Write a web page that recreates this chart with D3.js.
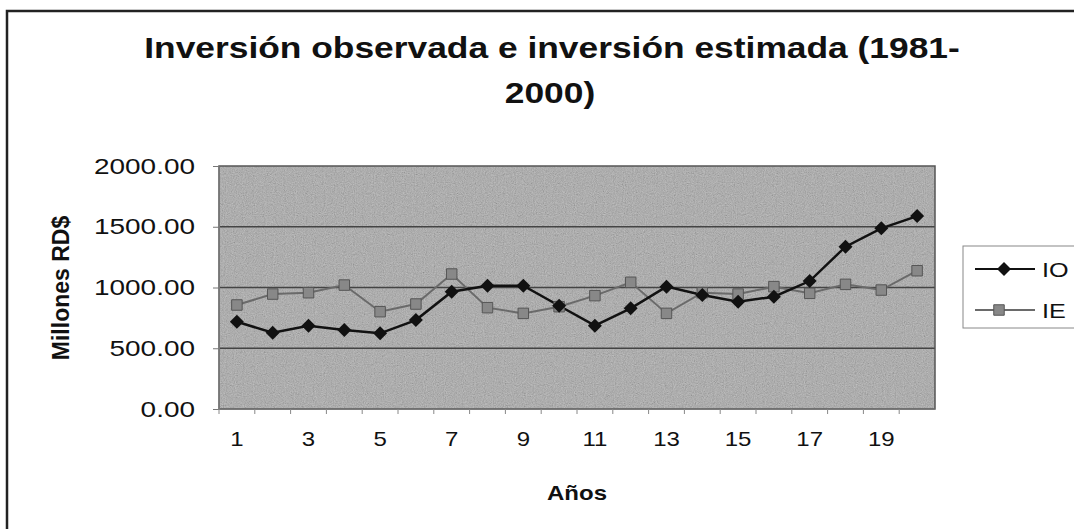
<!DOCTYPE html>
<html>
<head>
<meta charset="utf-8">
<script src="https://cdn.jsdelivr.net/npm/d3@7"></script>
<style>
  body { margin: 0; background: #fff; }
  text { font-family: "Liberation Sans", Arial, sans-serif; fill: #111; }
</style>
</head>
<body>
<div id="chart"></div>
<script>
// data
const years = [1, 2, 3, 4, 5, 6, 7, 8, 9, 10, 11, 12, 13, 14, 15, 16, 17, 18, 19, 20];
const ioValues = [718, 628, 686, 650, 623, 732, 965, 1015, 1015, 850, 686, 829, 1007, 938, 883, 924, 1053, 1336, 1487, 1588];
const ieValues = [856, 946, 957, 1020, 801, 864, 1111, 834, 787, 842, 933, 1043, 787, 957, 946, 1007, 952, 1026, 979, 1138];
const yTicks = [0, 500, 1000, 1500, 2000];
const xLabels = [1, 3, 5, 7, 9, 11, 13, 15, 17, 19];
const seriesNames = ["IO", "IE"];

const width = 1074, height = 529;
const plot = {left: 219, right: 935, top: 166, bottom: 409};

let svg = d3.select("#chart")
    .append("svg")
    .attr("width", width)
    .attr("height", height);

// grainy look of the scanned plot area
let defs = svg.append("defs");
let noise = defs.append("filter").attr("id", "noise")
    .attr("x", 0).attr("y", 0).attr("width", "100%").attr("height", "100%");
noise.append("feTurbulence")
    .attr("type", "fractalNoise")
    .attr("baseFrequency", 0.9)
    .attr("numOctaves", 2)
    .attr("seed", 3);
noise.append("feColorMatrix")
    .attr("type", "matrix")
    .attr("values", "0.33 0.33 0.33 0 0  0.33 0.33 0.33 0 0  0.33 0.33 0.33 0 0  0 0 0 0 1");

// outer frame (runs off the picture on the right and bottom)
svg.append("path")
    .attr("d", `M7,${height + 5} L7,11 L${width + 5},11`)
    .attr("fill", "none")
    .attr("stroke", "#222")
    .attr("stroke-width", 2.5);

let x = d3.scaleBand()
    .domain(years)
    .range([plot.left, plot.right]);

let y = d3.scaleLinear()
    .domain([0, 2000])
    .range([plot.bottom, plot.top]);

// plot background
svg.append("rect")
    .attr("x", plot.left).attr("y", plot.top)
    .attr("width", plot.right - plot.left).attr("height", plot.bottom - plot.top)
    .attr("fill", "#a0a0a0");
svg.append("rect")
    .attr("x", plot.left).attr("y", plot.top)
    .attr("width", plot.right - plot.left).attr("height", plot.bottom - plot.top)
    .attr("filter", "url(#noise)")
    .attr("opacity", 0.5);

// gridlines
svg.append("g")
    .selectAll("line")
    .data(yTicks.filter(d => d > 0 && d < 2000))
    .enter()
    .append("line")
    .attr("x1", plot.left).attr("x2", plot.right)
    .attr("y1", d => y(d)).attr("y2", d => y(d))
    .attr("stroke", "#444")
    .attr("stroke-width", 1.3);

svg.append("rect")
    .attr("x", plot.left).attr("y", plot.top)
    .attr("width", plot.right - plot.left).attr("height", plot.bottom - plot.top)
    .attr("fill", "none")
    .attr("stroke", "#555")
    .attr("stroke-width", 1.5);

// y axis
let yAxis = svg.append("g")
    .attr("transform", `translate(${plot.left}, 0)`)
    .call(d3.axisLeft(y).tickValues(yTicks).tickSize(6).tickFormat(d3.format(".2f")));
yAxis.select(".domain").attr("stroke", "#777");
yAxis.selectAll(".tick line").attr("stroke", "#777");
yAxis.selectAll(".tick text").remove();

svg.append("g")
    .selectAll("text")
    .data(yTicks)
    .enter()
    .append("text")
    .attr("transform", d => `translate(195, ${y(d) + 7.5}) scale(1.3, 1)`)
    .style("text-anchor", "end")
    .style("font-size", "21.5px")
    .text(d => d3.format(".2f")(d));

// x axis: ticks between categories
svg.append("line")
    .attr("x1", plot.left).attr("x2", plot.right)
    .attr("y1", plot.bottom).attr("y2", plot.bottom)
    .attr("stroke", "#777");
svg.append("g")
    .selectAll("line")
    .data(years)
    .enter()
    .append("line")
    .attr("x1", d => x(d)).attr("x2", d => x(d))
    .attr("y1", plot.bottom).attr("y2", plot.bottom + 5)
    .attr("stroke", "#888");

svg.append("g")
    .selectAll("text")
    .data(xLabels)
    .enter()
    .append("text")
    .attr("transform", d => `translate(${x(d) + x.bandwidth() / 2}, 446) scale(1.2, 1)`)
    .style("text-anchor", "middle")
    .style("font-size", "20px")
    .text(d => d);

// axis titles
svg.append("text")
    .attr("transform", "translate(577, 500) scale(1.2, 1)")
    .style("text-anchor", "middle")
    .style("font-size", "20px")
    .style("font-weight", "bold")
    .text("Años");

svg.append("text")
    .attr("transform", "translate(69, 288) rotate(-90)")
    .style("text-anchor", "middle")
    .style("font-size", "23px")
    .style("font-weight", "bold")
    .text("Millones RD$");

// title
svg.append("text")
    .attr("transform", "translate(552, 58) scale(1.22, 1)")
    .style("text-anchor", "middle")
    .style("font-size", "29px")
    .style("font-weight", "bold")
    .text("Inversión observada e inversión estimada (1981-");
svg.append("text")
    .attr("transform", "translate(550, 103) scale(1.22, 1)")
    .style("text-anchor", "middle")
    .style("font-size", "29px")
    .style("font-weight", "bold")
    .text("2000)");

// series
let cx = d => x(d) + x.bandwidth() / 2;
let line = d3.line()
    .x(d => cx(d[0]))
    .y(d => y(d[1]));

let ieData = years.map((d, i) => [d, ieValues[i]]);
let ioData = years.map((d, i) => [d, ioValues[i]]);

svg.append("path")
    .datum(ieData)
    .attr("d", line)
    .attr("fill", "none")
    .attr("stroke", "#6a6a6a")
    .attr("stroke-width", 2);

svg.append("path")
    .datum(ioData)
    .attr("d", line)
    .attr("fill", "none")
    .attr("stroke", "#111")
    .attr("stroke-width", 2.5);

let square = d3.symbol().type(d3.symbolSquare).size(110);
let diamond = "M0,-7 L7,0 L0,7 L-7,0 Z";

svg.append("g")
    .selectAll("path")
    .data(ieData)
    .enter()
    .append("path")
    .attr("d", square)
    .attr("transform", d => `translate(${cx(d[0])}, ${y(d[1])})`)
    .attr("fill", "#888")
    .attr("stroke", "#555")
    .attr("stroke-width", 1);

svg.append("g")
    .selectAll("path")
    .data(ioData)
    .enter()
    .append("path")
    .attr("d", diamond)
    .attr("transform", d => `translate(${cx(d[0])}, ${y(d[1])})`)
    .attr("fill", "#111");

// legend
let legend = svg.append("g");
legend.append("rect")
    .attr("x", 963).attr("y", 246)
    .attr("width", 130).attr("height", 82)
    .attr("fill", "#fff")
    .attr("stroke", "#888")
    .attr("stroke-width", 1);

let legendY = [269, 310];
legend.selectAll("line")
    .data(seriesNames)
    .enter()
    .append("line")
    .attr("x1", 975).attr("x2", 1035)
    .attr("y1", (d, i) => legendY[i]).attr("y2", (d, i) => legendY[i])
    .attr("stroke", (d, i) => i === 0 ? "#111" : "#6a6a6a")
    .attr("stroke-width", 2);
legend.append("path")
    .attr("d", diamond)
    .attr("transform", `translate(1004, ${legendY[0]})`)
    .attr("fill", "#111");
legend.append("path")
    .attr("d", square)
    .attr("transform", `translate(999, ${legendY[1]})`)
    .attr("fill", "#888")
    .attr("stroke", "#555");
legend.selectAll("text")
    .data(seriesNames)
    .enter()
    .append("text")
    .attr("transform", (d, i) => `translate(1042, ${legendY[i] + 8}) scale(1.2, 1)`)
    .style("font-size", "21px")
    .text(d => d);
</script>
</body>
</html>
